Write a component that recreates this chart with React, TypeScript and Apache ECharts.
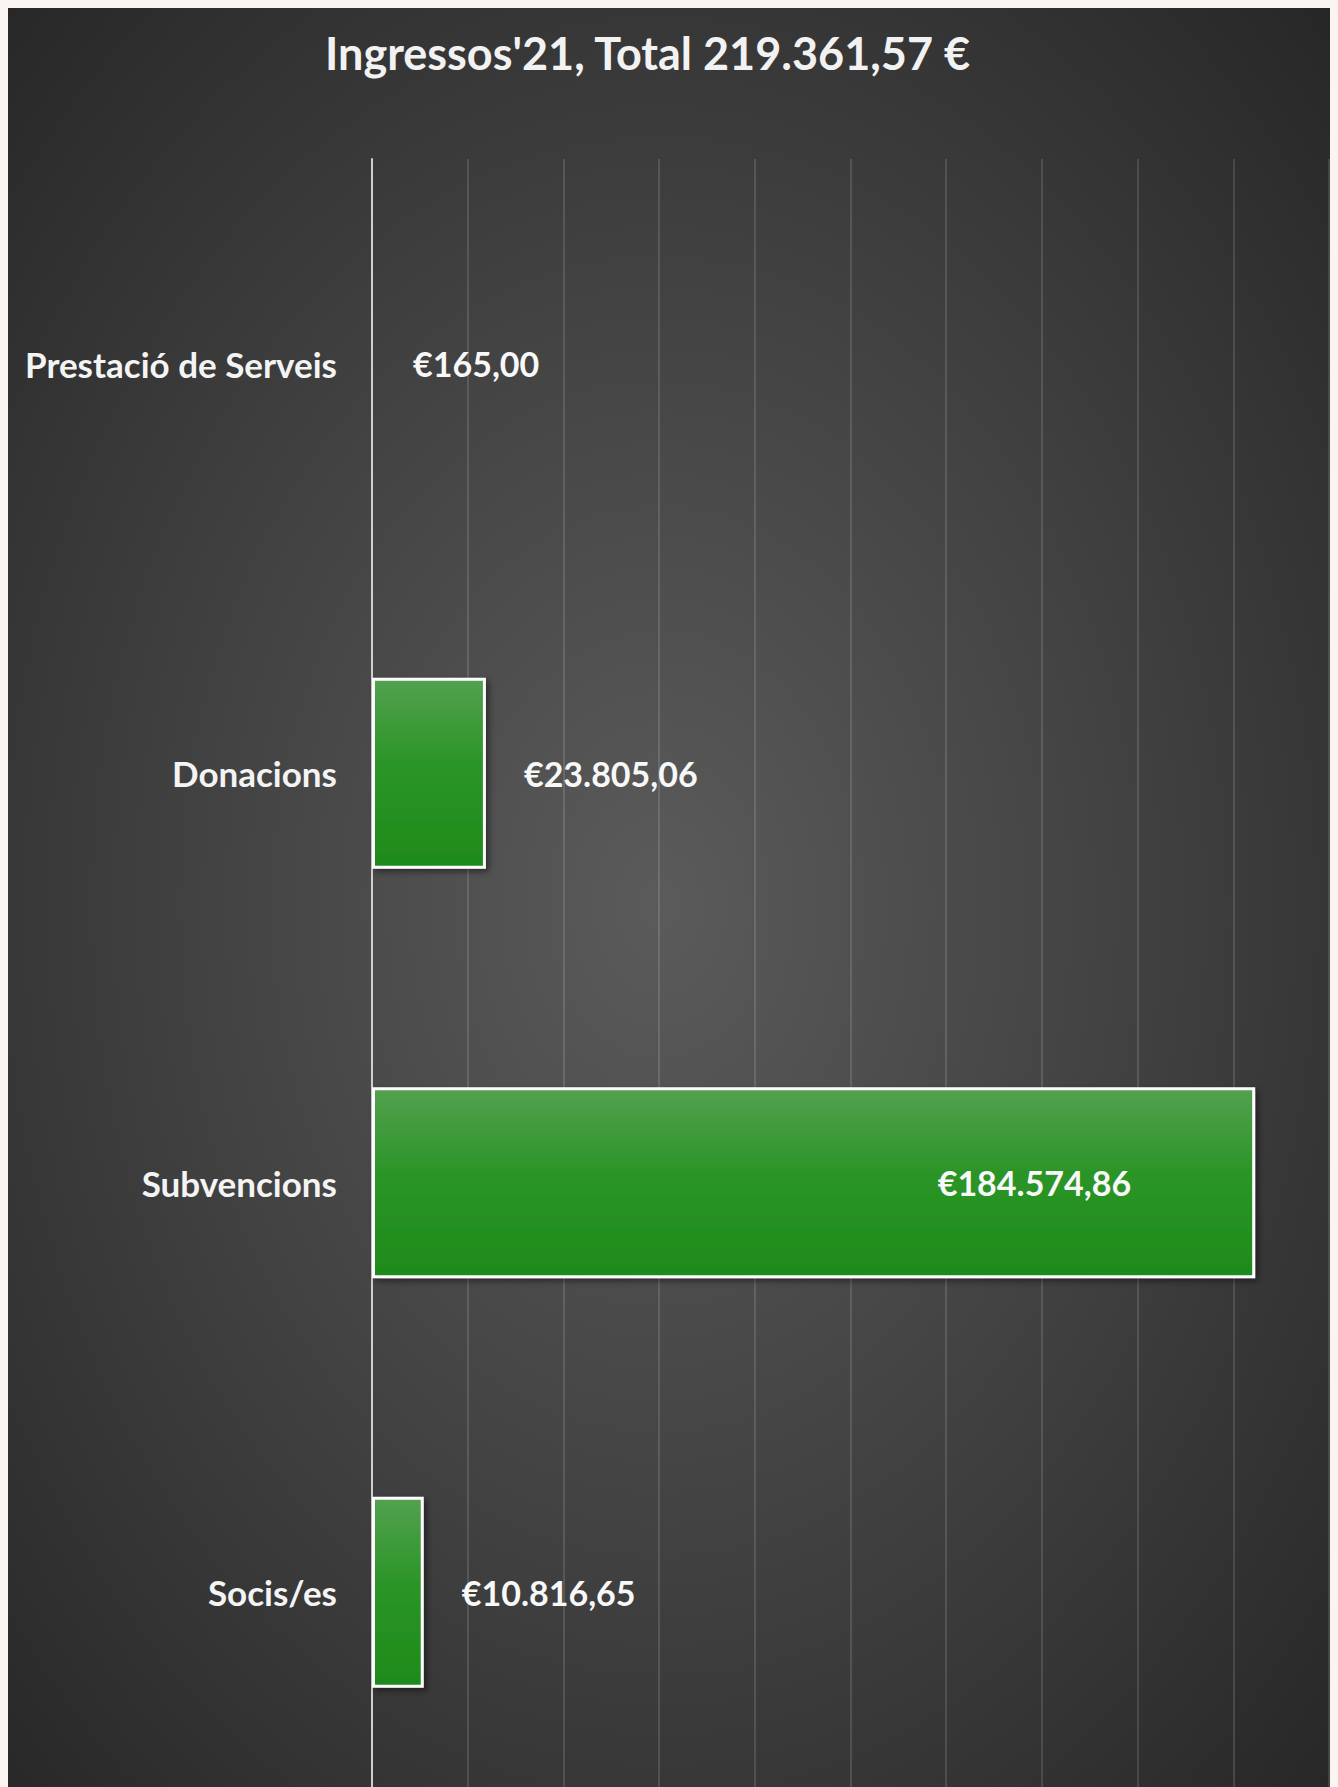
import React, { useEffect, useRef } from "react";
import * as echarts from "echarts";

const categories = ["Prestació de Serveis", "Donacions", "Subvencions", "Socis/es"];
const values = [165.0, 23805.06, 184574.86, 10816.65];
const valueLabels = ["€165,00", "€23.805,06", "€184.574,86", "€10.816,65"];
const insideLabel = [false, false, true, false];
const titleText = "Ingressos'21, Total 219.361,57 €";

export default function App() {
  const ref = useRef<HTMLDivElement>(null);
  useEffect(() => {
    document.body.style.background = "#faf5f0";
    document.body.style.overflow = "hidden";
    document.documentElement.style.overflow = "hidden";
    const chart = echarts.init(ref.current!, null, { renderer: "svg" });
    const font = "Lato, 'Open Sans', sans-serif";
    chart.setOption({
      animation: false,
      backgroundColor: {
        type: "radial",
        x: 0.49,
        y: 0.5,
        r: 0.8,
        colorStops: [
          { offset: 0, color: "#5b5b5b" },
          { offset: 0.45, color: "#414141" },
          { offset: 1, color: "#202020" },
        ],
      },
      title: {
        text: titleText,
        left: 312,
        top: 19,
        textStyle: { color: "#f2f2f2", fontSize: 45, fontWeight: "bold", fontFamily: font },
      },
      grid: { left: 364, right: 9, top: 153, bottom: 9, containLabel: false },
      xAxis: {
        type: "value",
        min: 0,
        max: 200000,
        interval: 20000,
        axisLabel: { show: false },
        axisLine: { show: false },
        axisTick: { show: false },
        splitLine: { show: true, lineStyle: { color: "rgba(255,255,255,0.13)", width: 2 } },
      },
      yAxis: {
        type: "category",
        inverse: true,
        data: categories,
        axisTick: { show: false },
        axisLine: { show: true, lineStyle: { color: "#cfcfcf", width: 2 } },
        axisLabel: {
          margin: 35,
          color: "#f4f4f4",
          fontSize: 35,
          fontWeight: "bold",
          fontFamily: font,
        },
      },
      series: [
        {
          type: "bar",
          barWidth: 191,
          barMinHeight: 3,
          data: values.map((v, i) => ({
            value: v,
            label: insideLabel[i]
              ? { position: "insideRight", distance: 124 }
              : { position: "right", distance: 38 },
          })),
          itemStyle: {
            color: {
              type: "linear",
              x: 0,
              y: 0,
              x2: 0,
              y2: 1,
              colorStops: [
                { offset: 0, color: "#53a14f" },
                { offset: 0.45, color: "#2b9527" },
                { offset: 1, color: "#1e8a1a" },
              ],
            },
            borderColor: "#ffffff",
            borderWidth: 3,
            shadowColor: "rgba(0,0,0,0.45)",
            shadowBlur: 6,
            shadowOffsetX: 3,
            shadowOffsetY: 3,
          },
          label: {
            show: true,
            color: "#f8f8f8",
            fontSize: 34,
            fontWeight: "bold",
            fontFamily: font,
            formatter: (p: any) => valueLabels[p.dataIndex],
          },
        },
      ],
    });
    return () => chart.dispose();
  }, []);
  return <div ref={ref} style={{ width: 1330, height: 1800, marginTop: -2 }} />;
}
